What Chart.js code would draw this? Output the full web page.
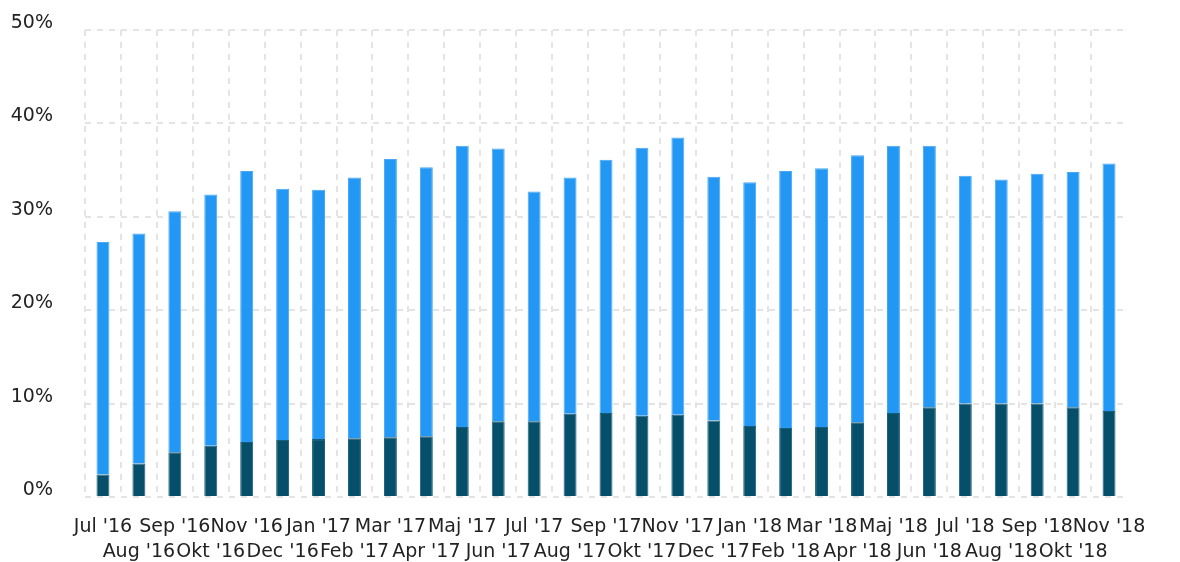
<!DOCTYPE html>
<html>
<head>
<meta charset="utf-8">
<script src="https://cdn.jsdelivr.net/npm/chart.js@4/dist/chart.umd.min.js"></script>
<style>
  html, body { margin: 0; padding: 0; background: #fff; }
  #wrap { width: 1180px; height: 562px; }
</style>
</head>
<body>
<div id="wrap"><canvas id="chart"></canvas></div>
<script>
// Månader på x-axeln
const months = ["Jul '16", "Aug '16", "Sep '16", "Okt '16", "Nov '16", "Dec '16",
  "Jan '17", "Feb '17", "Mar '17", "Apr '17", "Maj '17", "Jun '17",
  "Jul '17", "Aug '17", "Sep '17", "Okt '17", "Nov '17", "Dec '17",
  "Jan '18", "Feb '18", "Mar '18", "Apr '18", "Maj '18", "Jun '18",
  "Jul '18", "Aug '18", "Sep '18", "Okt '18", "Nov '18"];

// Nedre (mörk) del av staplarna, i procent
const darkPart = [2.4, 3.6, 4.8, 5.5, 5.9, 6.1, 6.2, 6.3, 6.4, 6.5, 7.5, 8.1,
  8.1, 8.9, 9.0, 8.7, 8.8, 8.2, 7.6, 7.4, 7.5, 8.0, 9.0, 9.6,
  10.0, 10.0, 10.0, 9.6, 9.2];

// Övre (ljusblå) del av staplarna, i procent
const lightPart = [24.9, 24.6, 25.8, 26.9, 29.0, 26.9, 26.7, 27.9, 29.8, 28.8, 30.1, 29.2,
  24.6, 25.3, 27.1, 28.7, 29.7, 26.1, 26.1, 27.5, 27.7, 28.6, 28.6, 28.0,
  24.4, 24.0, 24.6, 25.2, 26.5];

// Y-axelns steg
const yTicks = [0, 10, 20, 30, 40, 50];

// Varannan etikett på andra raden
const labels = months.map((m, i) => i % 2 === 0 ? [m, ''] : ['', m]);

const font = { family: 'DejaVu Sans', size: 19, lineHeight: 1.3 };
const gridColor = '#e4e4e4';

new Chart(document.getElementById('chart'), {
  type: 'bar',
  data: {
    labels: labels,
    datasets: [
      {
        label: 'mörk',
        data: darkPart,
        backgroundColor: '#064f6b',
        borderColor: '#1c5e79',
        borderWidth: { top: 1, left: 1, right: 1, bottom: 0 },
        borderSkipped: false,
        barPercentage: 0.36,
        categoryPercentage: 1
      },
      {
        label: 'ljus',
        data: lightPart,
        backgroundColor: '#2397f4',
        borderColor: '#48a7f6',
        borderWidth: { top: 1, left: 1, right: 1, bottom: 0 },
        borderSkipped: false,
        barPercentage: 0.36,
        categoryPercentage: 1
      }
    ]
  },
  options: {
    responsive: true,
    maintainAspectRatio: false,
    animation: false,
    layout: { padding: { top: 30, right: 53, left: 0, bottom: 0 } },
    plugins: {
      legend: { display: false },
      tooltip: { enabled: false }
    },
    scales: {
      x: {
        stacked: true,
        grid: {
          offset: true,
          // ingen linje längst till höger (den saknar tick)
          color: c => c.tick ? gridColor : 'rgba(0,0,0,0)',
          lineWidth: 2,
          drawTicks: false
        },
        border: { display: false, dash: [6, 6] },
        ticks: {
          font: font,
          color: '#222',
          padding: 18,
          maxRotation: 0,
          autoSkip: false
        },
        afterFit: function(scale) { scale.height = 65; }
      },
      y: {
        stacked: true,
        min: 0,
        max: 50,
        afterBuildTicks: function(scale) {
          scale.ticks = yTicks.map(v => ({ value: v }));
        },
        grid: {
          color: gridColor,
          lineWidth: 2,
          drawTicks: true,
          tickLength: 30,
          tickColor: 'rgba(0,0,0,0)'
        },
        border: { display: false, dash: [6, 6] },
        ticks: {
          font: font,
          color: '#222',
          padding: 2,
          labelOffset: -7,
          callback: v => v + '%'
        },
        afterFit: function(scale) { scale.width = 85; }
      }
    }
  }
});
</script>
</body>
</html>
